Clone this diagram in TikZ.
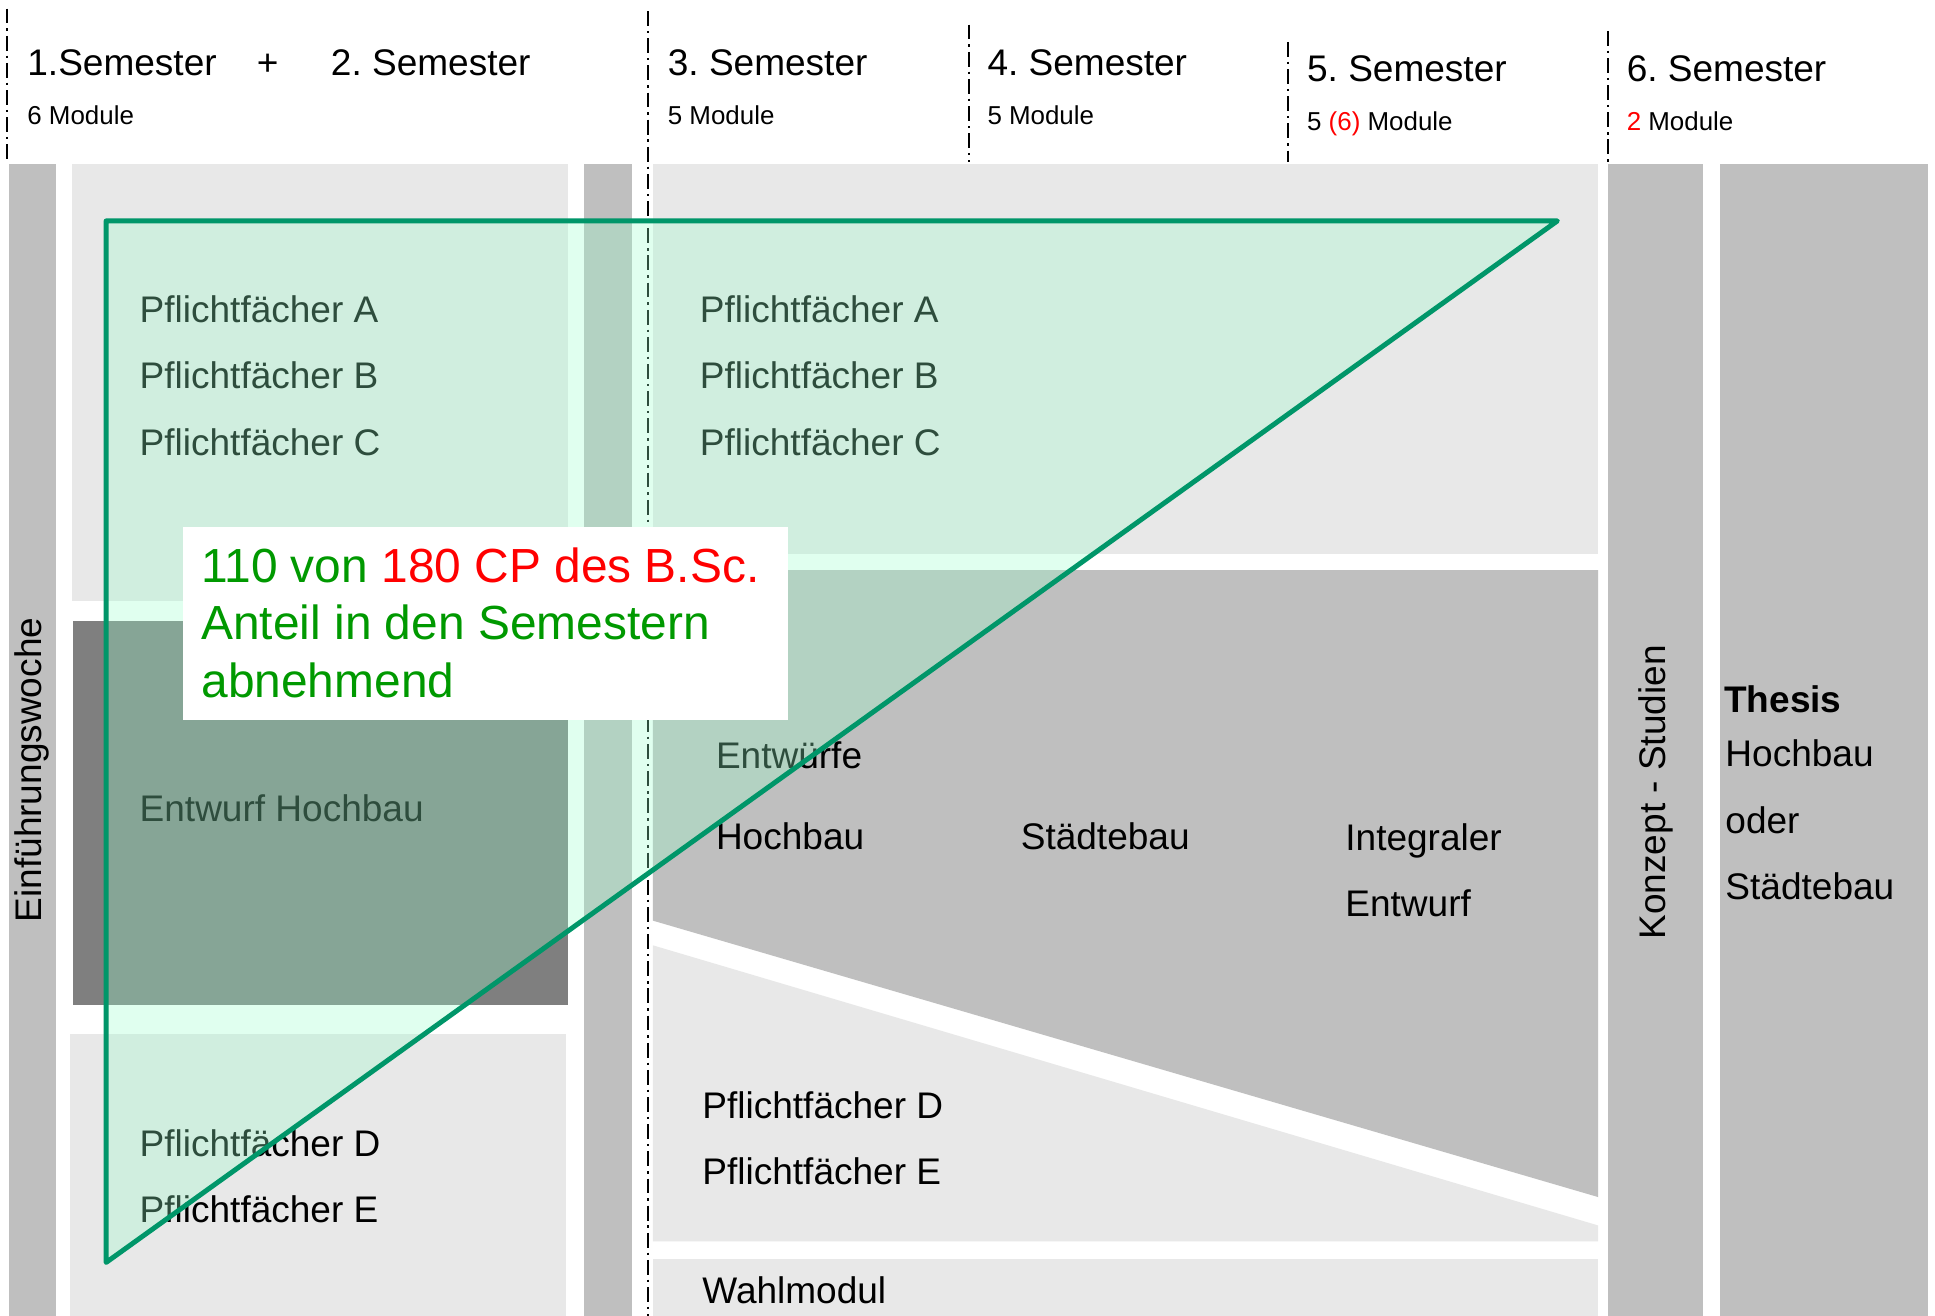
\documentclass[tikz,border=0pt]{standalone}
\usepackage{fontspec}
\setmainfont{Liberation Sans}
\frenchspacing
\definecolor{lg}{RGB}{232,232,232}
\definecolor{mg}{RGB}{191,191,191}
\definecolor{dg}{RGB}{127,127,127}
\definecolor{mint}{RGB}{153,255,204}
\definecolor{tri}{RGB}{0,150,105}
\definecolor{tgreen}{RGB}{0,153,0}
\definecolor{tred}{RGB}{255,0,0}
\begin{document}
\frenchspacing
\begin{tikzpicture}[x=1pt,y=-1pt,
  txt/.style={anchor=base west, inner sep=0pt, font=\fontsize{30}{36}\selectfont},
  modtxt/.style={anchor=base west, inner sep=0pt, font=\fontsize{21}{25}\selectfont},
  bigtxt/.style={anchor=base west, inner sep=0pt, font=\fontsize{38.8}{46}\selectfont},
  vtxt/.style={rotate=90, inner sep=0pt, font=\fontsize{30}{36}\selectfont},
  sepline/.style={line width=1.5pt, dash pattern=on 12pt off 4pt on 2pt off 4pt},
  boxlg/.style={fill=lg}, boxmg/.style={fill=mg}, boxdg/.style={fill=dg}]
\useasboundingbox (0,0) rectangle (1568,1066);
\fill[white] (0,0) rectangle (1568,1066);
% --- columns / boxes
\fill[boxmg] (7,133) rectangle (45,1066);
\fill[boxlg] (58,133) rectangle (460,487);
\fill[boxdg] (59,503) rectangle (460,814);
\fill[boxlg] (57,838) rectangle (459,1066);
\fill[boxmg] (473,133) rectangle (512,1066);
\fill[boxlg] (529,133) rectangle (1295,449);
\fill[boxmg] (529,462) -- (1295,462) -- (1295,970) -- (529,746) -- cycle;
\fill[boxlg] (529,766) -- (1295,993) -- (1295,1006) -- (529,1006) -- cycle;
\fill[boxlg] (529,1020) rectangle (1295,1066);
\fill[boxmg] (1303,133) rectangle (1380,1066);
\fill[boxmg] (1394,133) rectangle (1562,1066);
% --- separator lines
\coordinate (s1t) at (6,7);    \coordinate (s1b) at (6,131);
\coordinate (s2t) at (525,9);  \coordinate (s2b) at (525,1066);
\coordinate (s3t) at (785,20); \coordinate (s3b) at (785,131);
\coordinate (s4t) at (1044,34);\coordinate (s4b) at (1044,131);
\coordinate (s5t) at (1303,25);\coordinate (s5b) at (1303,131);
\draw[sepline] (s1t) -- (s1b);
\draw[sepline] (s2t) -- (s2b);
\draw[sepline] (s3t) -- (s3b);
\draw[sepline] (s4t) -- (s4b);
\draw[sepline] (s5t) -- (s5b);
% --- header
\node[txt] (h1) at (22,61) {1.Semester};
\node[txt] (hplus) at (208,61) {+};
\node[txt] (h2) at (268,61) {2. Semester};
\node[modtxt] (m12) at (22,101) {6 Module};
\node[txt] (h3) at (541,61) {3. Semester};
\node[modtxt] (m3) at (541,101) {5 Module};
\node[txt] (h4) at (800,61) {4. Semester};
\node[modtxt] (m4) at (800,101) {5 Module};
\node[txt] (h5) at (1059,66) {5. Semester};
\node[modtxt] (m5) at (1059,106) {5 \textcolor{tred}{(6)} Module};
\node[txt] (h6) at (1318,66) {6. Semester};
\node[modtxt] (m6) at (1318,106) {\textcolor{tred}{2} Module};
% --- body texts
\node[vtxt] (einf) at (26,624) {Einführungswoche};
\node[txt] (pa1) at (113,261) {Pflichtfächer A};
\node[txt] (pb1) at (113,315) {Pflichtfächer B};
\node[txt] (pc1) at (113,369) {Pflichtfächer C};
\node[txt] (eh) at (113,666) {Entwurf Hochbau};
\node[txt] (pd1) at (113,937) {Pflichtfächer D};
\node[txt] (pe1) at (113,991) {Pflichtfächer E};
\node[txt] (pa2) at (567,261) {Pflichtfächer A};
\node[txt] (pb2) at (567,315) {Pflichtfächer B};
\node[txt] (pc2) at (567,369) {Pflichtfächer C};
\node[txt] (ew) at (580,623) {Entwürfe};
\node[txt] (ewh) at (580,688) {Hochbau};
\node[txt] (ews) at (827,688) {Städtebau};
\node[txt] (ewi) at (1090,689) {Integraler};
\node[txt] (ewe) at (1090,743) {Entwurf};
\node[txt] (pd2) at (569,906) {Pflichtfächer D};
\node[txt] (pe2) at (569,960) {Pflichtfächer E};
\node[txt] (wm) at (569,1056) {Wahlmodul};
\node[vtxt] (konz) at (1342,642) {Konzept - Studien};
\node[txt, font=\fontsize{30}{36}\selectfont\bfseries] (th) at (1397,577) {Thesis};
\node[txt] (thh) at (1398,621) {Hochbau};
\node[txt] (tho) at (1398,675) {oder};
\node[txt] (ths) at (1398,729) {Städtebau};
% --- triangle overlay
\coordinate (ta) at (86,179);
\coordinate (tb) at (1262,179);
\coordinate (tc) at (86,1023);
\draw[tri, line width=4pt, line join=round, fill=mint, fill opacity=0.3] (ta) -- (tb) -- (tc) -- cycle;
% --- CP box
\node[fill=white, inner sep=0pt, minimum width=490pt, minimum height=156pt, anchor=north west] (cpbox) at (148,427) {};
\node[bigtxt, text=tgreen] (cp1) at (163,472) {110 von \textcolor{tred}{180 CP des B.Sc.}};
\node[bigtxt, text=tgreen] (cp2) at (163,518) {Anteil in den Semestern};
\node[bigtxt, text=tgreen] (cp3) at (163,565) {abnehmend};
\end{tikzpicture}
\end{document}
